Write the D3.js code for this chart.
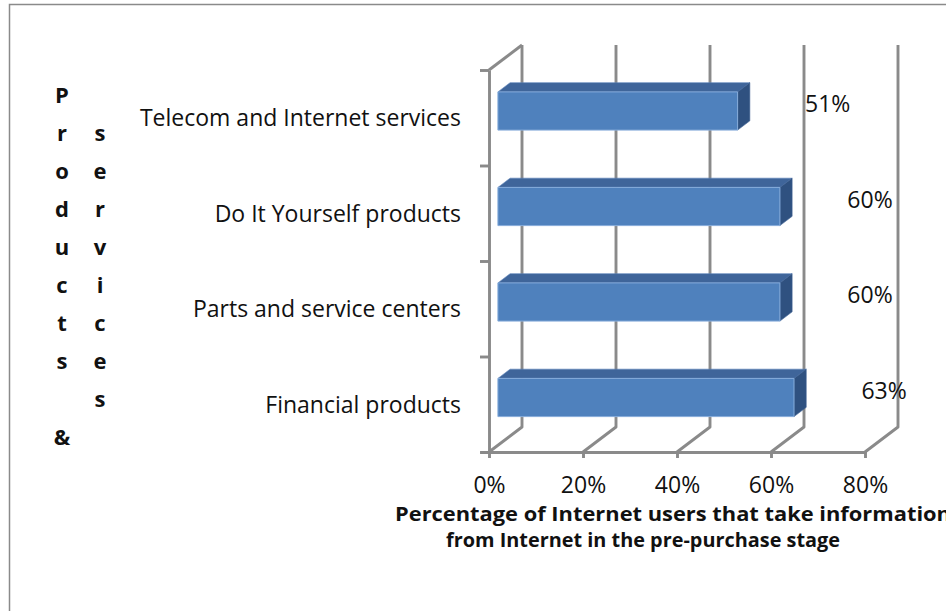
<!DOCTYPE html>
<html>
<head>
<meta charset="utf-8">
<script src="https://cdn.jsdelivr.net/npm/d3@7/dist/d3.min.js"></script>
<style>
  html, body { margin: 0; padding: 0; background: #fff; }
  svg { display: block; font-family: "Open Sans", "Noto Sans", sans-serif; }
</style>
</head>
<body>
<svg id="chart" width="946" height="611"></svg>
<script>
// ---- data ----
const categories = ["Telecom and Internet services", "Do It Yourself products", "Parts and service centers", "Financial products"];
const values = [51, 60, 60, 63];
const tickValues = [0, 20, 40, 60, 80];
const xTitleLines = ["Percentage of Internet users that take information", "from Internet in the pre-purchase stage"];
const yTitle = "Products & services";

// ---- layout ----
const plot = { left: 489, right: 865, top: 70, bottom: 452 };
const depth = { dx: 33, dy: -25 };          // 3D depth offset of back wall
const barDepth = { from: 0.27, to: 0.64 };   // bar position inside the depth
const gridColor = "#8a8a8a";
const gridWidth = 2.9;

const svg = d3.select("#chart");

// frame
svg.append("rect").attr("x", 9.5).attr("y", 4.5).attr("width", 960).attr("height", 640)
  .attr("fill", "none").attr("stroke", "#8a8a8a").attr("stroke-width", 1.5);

const x = d3.scaleLinear().domain([0, 80]).range([plot.left, plot.right]);
const y = d3.scaleBand().domain(categories).range([plot.top, plot.bottom]).padding(0);
const yEdge = d3.scaleLinear().domain([0, categories.length]).range([plot.top, plot.bottom]);

const P = (px, py, d) => [px + d * depth.dx, py + d * depth.dy];
const line = d3.line();

// back wall gridlines + floor diagonals
const grid = svg.append("g").attr("stroke", gridColor).attr("stroke-width", gridWidth).attr("fill", "none")
  .attr("stroke-linejoin", "round");
tickValues.forEach(t => {
  const f = [x(t), plot.bottom];
  const b = P(x(t), plot.bottom, 1);
  const bt = P(x(t), plot.top, 1);
  grid.append("path").attr("d", line([f, b, bt]));
});
// left wall top edge
grid.append("path").attr("d", line([[x(0), plot.top], P(x(0), plot.top, 1)]));

// bars
const bh = y.bandwidth() * 0.4;
const bars = svg.append("g");
categories.forEach((c, i) => {
  const v = values[i];
  const cy = y(c) + y.bandwidth() / 2;
  const y0 = cy - bh / 2, y1 = cy + bh / 2;
  const fl = P(x(0), y0, barDepth.from), fr = P(x(v), y0, barDepth.from);
  const flb = P(x(0), y1, barDepth.from), frb = P(x(v), y1, barDepth.from);
  const bl = P(x(0), y0, barDepth.to), br = P(x(v), y0, barDepth.to);
  const brb = P(x(v), y1, barDepth.to);
  // top
  bars.append("path").attr("d", line([fl, fr, br, bl]) + "Z")
    .attr("fill", "#3F659A").attr("stroke", "#5A82B8").attr("stroke-width", 0.6);
  // right side
  bars.append("path").attr("d", line([fr, br, brb, frb]) + "Z")
    .attr("fill", "#2F5180").attr("stroke", "#3A5E90").attr("stroke-width", 0.6);
  // front
  bars.append("path").attr("d", line([fl, fr, frb, flb]) + "Z")
    .attr("fill", "#4F81BD").attr("stroke", "#86ACDA").attr("stroke-width", 1);
});

// front axes
const xAxis = d3.axisBottom(x).tickValues(tickValues).tickFormat(d => d + "%")
  .tickSizeInner(6).tickSizeOuter(0).tickPadding(0);
const gx = svg.append("g").attr("transform", `translate(0,${plot.bottom})`).call(xAxis);
gx.selectAll("path, line").attr("stroke", gridColor).attr("stroke-width", gridWidth);
gx.select(".domain").attr("d", `M${plot.left - 8},0.5H${plot.right}`);
gx.selectAll("text").attr("y", 25).attr("dy", "0.71em")
  .attr("font-size", 23).attr("fill", "#111").attr("font-family", "Open Sans");

const yAxis = d3.axisLeft(yEdge).tickValues(d3.range(categories.length + 1)).tickFormat("")
  .tickSizeInner(9).tickSizeOuter(0);
const gy = svg.append("g").attr("transform", `translate(${plot.left},0)`).call(yAxis);
gy.selectAll("path, line").attr("stroke", gridColor).attr("stroke-width", gridWidth);

// category labels
svg.append("g").selectAll("text").data(categories).join("text")
  .attr("x", plot.left - 28)
  .attr("y", d => y(d) + y.bandwidth() / 2)
  .attr("dy", "0.36em")
  .attr("text-anchor", "end")
  .attr("font-size", 23).attr("fill", "#111")
  .text(d => d);

// value labels
svg.append("g").selectAll("text").data(values).join("text")
  .attr("x", d => x(d) + 99)
  .attr("y", (d, i) => y(categories[i]) + y.bandwidth() / 2 - 14)
  .attr("dy", "0.36em")
  .attr("text-anchor", "middle")
  .attr("font-size", 23).attr("fill", "#111")
  .text(d => d + "%");

// x axis title
const tt = svg.append("g").attr("font-weight", "bold").attr("font-size", 20).attr("fill", "#111");
tt.append("text").attr("x", 395).attr("y", 521).attr("text-anchor", "start")
  .attr("textLength", 556).attr("lengthAdjust", "spacingAndGlyphs").text(xTitleLines[0]);
tt.append("text").attr("x", 446).attr("y", 547).attr("text-anchor", "start")
  .attr("textLength", 394).attr("lengthAdjust", "spacingAndGlyphs").text(xTitleLines[1]);

// y axis title (stacked letters, wrapped into columns)
const rowsPerCol = 10;
const chars = Array.from(yTitle).map((ch, k) => ({ ch, col: Math.floor(k / rowsPerCol), row: k % rowsPerCol }));
svg.append("g").attr("font-weight", "bold").attr("font-size", 22).attr("fill", "#111")
  .selectAll("text").data(chars.filter(d => d.ch.trim() !== "")).join("text")
  .attr("x", d => 62 + d.col * 38)
  .attr("y", d => 95 + d.row * 38)
  .attr("dy", "0.36em")
  .attr("text-anchor", "middle")
  .text(d => d.ch);
</script>
</body>
</html>
